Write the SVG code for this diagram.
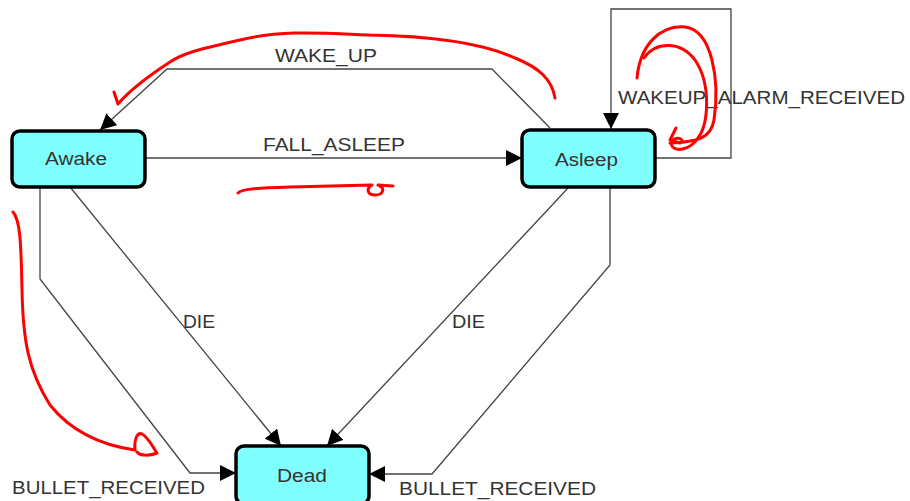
<svg xmlns="http://www.w3.org/2000/svg" width="910" height="501" viewBox="0 0 910 501">
  <style>
    .state rect { fill: #80ffff; stroke: #000; stroke-width: 3.5; }
    .state text, .lbl { font-family: "Liberation Sans", Arial, sans-serif; font-size: 18px; fill: #333; }
    .edge { fill: none; stroke: #444; stroke-width: 1.3; marker-end: url(#arrow); }
    .ink { fill: none; stroke: #ff0000; stroke-width: 3; stroke-linecap: round; stroke-linejoin: round; }
  </style>
  <defs>
    <marker id="arrow" markerUnits="userSpaceOnUse" markerWidth="17" markerHeight="16" refX="16" refY="8" orient="auto">
      <path d="M0,0 L16,8 L0,16 z" fill="#000"/>
    </marker>
  </defs>
  <rect width="910" height="501" fill="#fff"/>

  <!-- transitions -->
  <g id="connectors">
    <path class="edge" d="M145,158 L522,158"/>
    <path class="edge" d="M550,128 L492,69 L167,69 L100,130"/>
    <path class="edge" d="M655,158 L731,158 L731,9 L611,9 L611,129"/>
    <path class="edge" d="M70,187 L281,446"/>
    <path class="edge" d="M569,187 L327,446"/>
    <path class="edge" d="M40,187 L40,279 L190,473 L236,473"/>
    <path class="edge" d="M610,187 L610,265 L432,474 L369,474"/>
    <text class="lbl" x="275" y="62" textLength="102" lengthAdjust="spacingAndGlyphs">WAKE_UP</text>
    <text class="lbl" x="263" y="151" textLength="142" lengthAdjust="spacingAndGlyphs">FALL_ASLEEP</text>
    <text class="lbl" x="618" y="104" textLength="287" lengthAdjust="spacingAndGlyphs">WAKEUP_ALARM_RECEIVED</text>
    <text class="lbl" x="183" y="328" textLength="32" lengthAdjust="spacingAndGlyphs">DIE</text>
    <text class="lbl" x="452" y="328" textLength="33" lengthAdjust="spacingAndGlyphs">DIE</text>
    <text class="lbl" x="12" y="494" textLength="193" lengthAdjust="spacingAndGlyphs">BULLET_RECEIVED</text>
    <text class="lbl" x="399" y="495" textLength="197" lengthAdjust="spacingAndGlyphs">BULLET_RECEIVED</text>
  </g>

  <!-- states -->
  <g id="awake" class="state">
    <rect x="12" y="131" width="133" height="56" rx="8"/>
    <text x="45" y="165" textLength="62" lengthAdjust="spacingAndGlyphs">Awake</text>
  </g>
  <g id="asleep" class="state">
    <rect x="522" y="130" width="133" height="57" rx="8"/>
    <text x="555" y="166" textLength="63" lengthAdjust="spacingAndGlyphs">Asleep</text>
  </g>
  <g id="dead" class="state">
    <rect x="236" y="446" width="133" height="58" rx="8"/>
    <text x="277" y="482" textLength="50" lengthAdjust="spacingAndGlyphs">Dead</text>
  </g>

  <!-- red pen strokes -->
  <g id="annotations">
    <path class="ink" d="M555,98 C552,80 540,68 515,58 C480,42 430,36 370,35 C320,33 280,30 240,40 C205,48 185,52 170,62 C150,75 130,90 118,104 L114,92"/>
    <path class="ink" d="M637,78 C640,45 660,25 685,27 C712,30 720,80 714,120 C711,138 698,142 670,143"/>
    <path class="ink" d="M644,58 C655,42 680,40 695,60 C712,85 708,125 698,138 C690,150 676,152 672,146 C668,140 678,136 682,140"/>
    <path class="ink" d="M676,128 L670,140 L680,143"/>
    <path class="ink" d="M238,193 C242,189 255,188 290,187 L372,185 C366,188 367,195 375,195 C383,195 386,188 378,185 L393,186"/>
    <path class="ink" d="M13,212 C20,220 21,240 22,290 C23,340 28,370 50,405 C70,430 100,445 135,450 C134,440 137,432 142,434 C148,437 152,446 157,453 C150,456 140,456 137,452"/>
  </g>
</svg>
